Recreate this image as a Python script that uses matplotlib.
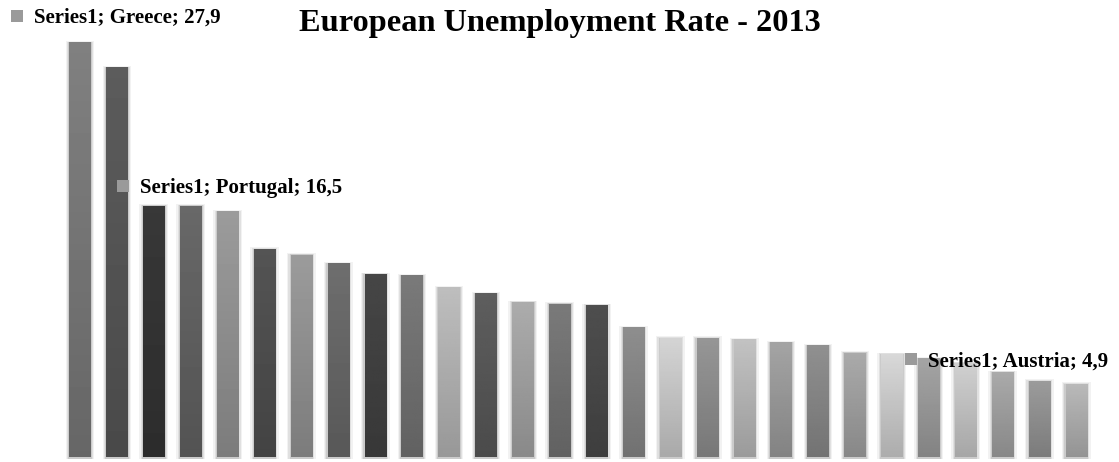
import numpy as np
import matplotlib
matplotlib.use("Agg")
import matplotlib.pyplot as plt
from matplotlib.transforms import offset_copy

"""Chart data"""
countries = ["Greece", "Spain", "Croatia", "Cyprus", "Portugal", "Slovakia",
             "Ireland", "Bulgaria", "Italy", "Latvia", "Lithuania", "France",
             "Poland", "Slovenia", "Hungary", "Estonia", "Finland", "Belgium",
             "Sweden", "United Kingdom", "Netherlands", "Romania", "Denmark",
             "Czech Republic", "Malta", "Luxembourg", "Germany", "Austria"]
rates = [27.9, 26.2, 16.9, 16.9, 16.5, 14.0, 13.6, 13.0, 12.3, 12.2, 11.4, 11.0,
         10.4, 10.3, 10.2, 8.7, 8.0, 8.0, 7.9, 7.7, 7.5, 7.0, 6.9, 6.6,
         6.3, 5.7, 5.1, 4.9]
labelled = ["Greece", "Portugal", "Austria"]

"""Bar shades (grey level of the top of each bar)"""
shades = [128, 92, 56, 104, 155, 84, 155, 110, 70, 122, 190, 94,
          172, 122, 78, 142, 212, 150, 194, 164, 144, 170, 216, 164,
          208, 170, 155, 185]

fig = plt.figure(figsize=(11.19, 4.62), dpi=100)
ax = fig.add_axes([0, 0, 1, 1])
ax.set_xlim(-2.168, 28.157)
ax.set_ylim(-0.337, 30.77)
ax.axis("off")

width = 0.58
x = np.arange(len(rates))
for xi, v, s in zip(x, rates, shades):
    # soft shadow
    for k, a in [(0.10, 0.05), (0.06, 0.07), (0.03, 0.09)]:
        ax.add_patch(plt.Rectangle((xi - width / 2 - k, -0.12), width + 2 * k, v + 0.12 + k * 1.2,
                                   color="black", alpha=a, lw=0, zorder=1))
    top = s / 255
    bottom = top * 0.8
    grad = np.linspace(top, bottom, 64).reshape(-1, 1)
    ax.imshow(grad, cmap="gray", vmin=0, vmax=1, aspect="auto",
              extent=[xi - width / 2, xi + width / 2, 0, v], zorder=2,
              interpolation="bilinear")

# data labels (offsets in pixels from the bar top)
offsets = {"Greece": (-63, 27), "Portugal": (-105, 26), "Austria": (-165, 25)}
for name in labelled:
    i = countries.index(name)
    dx, dy = offsets[name]
    tr = offset_copy(ax.transData, fig=fig, x=dx, y=dy, units="dots")
    ax.plot(x[i], rates[i], marker="s", markersize=8, color="#9a9a9a",
            markeredgewidth=0, transform=tr, zorder=4, clip_on=False)
    ax.annotate("Series1; %s; %s" % (name, str(rates[i]).replace(".", ",")),
                xy=(x[i], rates[i]), xytext=(dx + 17, dy - 2), textcoords="offset pixels",
                ha="left", va="center", fontsize=15, fontweight="bold",
                family="Liberation Serif", color="black", zorder=5)

fig.text(0.5, 0.95, "European Unemployment Rate - 2013", ha="center", va="center",
         fontsize=23.3, fontweight="bold", family="Liberation Serif")

fig.savefig("out.png", dpi=100, facecolor="white")
